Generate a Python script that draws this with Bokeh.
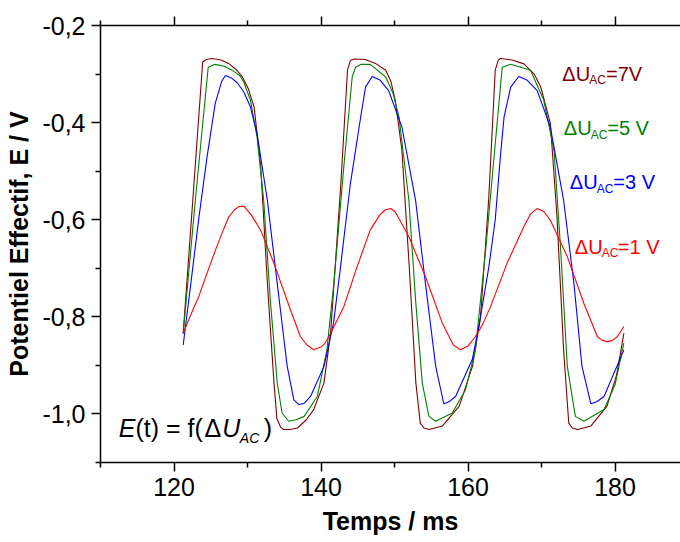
from bokeh.plotting import figure
from bokeh.models import Range1d, LinearAxis, FixedTicker, CustomJSTickFormatter, Label
from bokeh.embed import file_html
from bokeh.resources import INLINE

# ---- data ----
t7 = [121.25, 122.6, 123.9, 124.4, 125.2, 126.4, 127.5, 128.4, 129.3, 130.1, 130.9, 131.8, 132.7, 133.6, 134.0,
      134.5, 134.9, 135.8, 136.8, 138.0, 139.0, 140.4, 141.3, 142.0, 142.7, 143.6, 144.0, 144.5, 146.0, 147.5,
      148.8, 149.5, 150.1, 151.0, 152.0, 152.9, 153.5, 154.0, 154.7, 156.5, 158.8, 160.6, 161.7, 162.8, 163.7,
      164.1, 164.4, 166.0, 167.6, 169.0, 169.9, 171.2, 172.1, 173.0, 173.7, 174.2, 174.9, 176.7, 178.9, 180.2, 181.2]
e7 = [-0.834, -0.55, -0.275, -0.270, -0.268, -0.271, -0.279, -0.290, -0.306, -0.330, -0.368, -0.491, -0.731, -0.936, -1.010,
      -1.027, -1.032, -1.032, -1.029, -1.012, -0.991, -0.936, -0.834, -0.68, -0.525, -0.292, -0.272, -0.269, -0.270, -0.279,
      -0.292, -0.315, -0.354, -0.457, -0.697, -0.936, -1.019, -1.029, -1.032, -1.025, -0.984, -0.902, -0.800, -0.560, -0.292,
      -0.272, -0.268, -0.271, -0.279, -0.300, -0.327, -0.402, -0.594, -0.868, -1.019, -1.029, -1.032, -1.025, -0.984, -0.920, -0.834]

t5 = [121.25, 122.9, 124.65, 125.6, 126.8, 127.9, 129.0, 129.5, 130.4, 131.3, 132.2, 133.1, 134.04, 134.7, 135.6,
      136.6, 137.7, 139.5, 140.8, 141.74, 143.1, 144.24, 144.7, 145.5, 146.7, 148.8, 149.8, 150.6, 151.95, 152.86,
      153.77, 154.67, 155.6, 157.85, 159.66, 161.0, 162.4, 163.7, 164.65, 165.8, 168.5, 170.3, 171.7, 172.6, 173.5,
      174.6, 175.75, 178.5, 180.0, 181.2]
e5 = [-0.834, -0.56, -0.286, -0.280, -0.284, -0.292, -0.304, -0.317, -0.354, -0.43, -0.560, -0.765, -0.936, -0.998, -1.015,
      -1.012, -1.005, -0.964, -0.868, -0.731, -0.491, -0.306, -0.286, -0.280, -0.280, -0.306, -0.340, -0.388, -0.560, -0.765,
      -0.936, -1.005, -1.015, -0.998, -0.950, -0.868, -0.662, -0.443, -0.286, -0.280, -0.292, -0.354, -0.457, -0.662, -0.902,
      -1.005, -1.015, -0.991, -0.94, -0.854]

t3 = [121.25, 122.3, 123.4, 124.5, 125.6, 126.46, 127.0, 127.8, 128.6, 129.5, 130.4, 131.3, 132.7, 134.04, 135.4,
      136.3, 136.98, 137.7, 138.57, 140.4, 141.7, 142.65, 144.0, 145.4, 146.05, 146.96, 148.0, 149.2, 151.0, 152.86,
      154.2, 155.6, 156.7, 157.4, 158.3, 160.57, 161.47, 162.83, 163.7, 164.4, 164.9, 165.8, 166.9, 168.0, 169.4,
      171.2, 173.0, 174.4, 175.5, 176.7, 177.5, 178.5, 181.2]
e3 = [-0.858, -0.73, -0.594, -0.47, -0.361, -0.316, -0.303, -0.308, -0.318, -0.337, -0.368, -0.423, -0.560, -0.731, -0.902,
      -0.971, -0.981, -0.978, -0.964, -0.902, -0.813, -0.697, -0.525, -0.388, -0.327, -0.305, -0.312, -0.334, -0.409, -0.560,
      -0.731, -0.902, -0.979, -0.975, -0.964, -0.888, -0.820, -0.697, -0.60, -0.47, -0.388, -0.327, -0.305, -0.312, -0.334,
      -0.409, -0.560, -0.731, -0.902, -0.979, -0.975, -0.964, -0.868]

t1 = [121.25, 122.3, 123.37, 124.5, 125.65, 126.6, 127.46, 128.2, 128.8, 129.5, 130.5, 131.77, 133.6, 135.85, 137.2,
      138.1, 139.0, 140.0, 140.5, 141.06, 143.1, 144.9, 146.7, 148.0, 148.7, 149.46, 150.1, 150.7, 151.95, 154.2,
      156.5, 158.0, 158.98, 160.0, 161.0, 162.0, 163.06, 165.3, 167.6, 168.5, 169.4, 170.3, 171.2, 173.5, 175.75,
      177.6, 178.2, 178.9, 179.6, 180.3, 181.2]
e1 = [-0.834, -0.795, -0.758, -0.71, -0.662, -0.625, -0.594, -0.580, -0.573, -0.572, -0.590, -0.621, -0.690, -0.786, -0.841,
      -0.858, -0.868, -0.862, -0.855, -0.841, -0.779, -0.697, -0.621, -0.590, -0.580, -0.577, -0.584, -0.600, -0.635, -0.717,
      -0.813, -0.858, -0.868, -0.860, -0.841, -0.815, -0.779, -0.690, -0.614, -0.588, -0.577, -0.583, -0.601, -0.676, -0.772,
      -0.841, -0.848, -0.851, -0.849, -0.841, -0.820]

x_major = [120, 140, 160, 180]
x_minor = [110, 130, 150, 170]
y_major = [-1.0, -0.8, -0.6, -0.4, -0.2]
y_minor = [-1.1, -0.9, -0.7, -0.5, -0.3]

series = [
    (t7, e7, "#800000", "7V"),
    (t5, e5, "#008000", "5 V"),
    (t3, e3, "#0000FF", "3 V"),
    (t1, e1, "#FF0000", "1 V"),
]

FONT = "Liberation Sans"

p = figure(width=680, height=542, output_backend="svg", toolbar_location=None,
           x_range=Range1d(110, 188.9), y_range=Range1d(-1.1, -0.2),
           min_border_left=100, min_border_right=0, min_border_top=25, min_border_bottom=80)
p.outline_line_color = None
p.xgrid.visible = False
p.ygrid.visible = False
p.background_fill_color = "white"
p.border_fill_color = "white"

xt = FixedTicker(ticks=x_major, minor_ticks=x_minor)
yt = FixedTicker(ticks=y_major, minor_ticks=y_minor)


def style(ax):
    ax.axis_line_width = 1.5
    ax.axis_line_color = "black"
    ax.major_tick_line_width = 1.5
    ax.minor_tick_line_width = 1.5
    ax.major_tick_line_color = "black"
    ax.minor_tick_line_color = "black"
    ax.major_tick_out = 9
    ax.major_tick_in = 0
    ax.minor_tick_out = 5
    ax.minor_tick_in = 0
    ax.major_label_text_font = FONT
    ax.major_label_text_font_size = "25px"
    ax.major_label_text_color = "black"
    ax.axis_label_text_font = FONT
    ax.axis_label_text_font_size = "25px"
    ax.axis_label_text_font_style = "bold"
    ax.axis_label_text_color = "black"


xa = p.xaxis[0]
xa.ticker = xt
xa.formatter = CustomJSTickFormatter(code="return tick.toFixed(0);")
style(xa)
xa.major_label_standoff = 6
xa.axis_label = "Temps / ms"
xa.axis_label_standoff = 8

ya = p.yaxis[0]
ya.ticker = yt
ya.formatter = CustomJSTickFormatter(code="return tick.toFixed(1).replace('.', ',');")
style(ya)
ya.major_label_standoff = 6
ya.axis_label = "Potentiel Effectif, E / V"
ya.axis_label_standoff = 6

top = LinearAxis(ticker=xt, formatter=CustomJSTickFormatter(code="return '';"))
style(top)
top.major_label_text_font_size = "1px"
top.major_label_standoff = 0
p.add_layout(top, "above")

for t, e, c, _ in series:
    p.line(t, e, line_color=c, line_width=1.1)


def rich(x, y, pieces, color):
    for txt, dx, dy, size, fstyle in pieces:
        p.add_layout(Label(x=x, y=y, x_offset=dx, y_offset=dy, text=txt,
                           text_font=FONT, text_font_size=f"{size}px", text_font_style=fstyle,
                           text_color=color, text_baseline="alphabetic", text_align="left"))


# series annotations
ann_pos = [(172.82, -0.2989), (173.03, -0.4121), (173.85, -0.5219), (174.53, -0.6557)]
ann_eq = [43.7, 43.4, 43.4, 43.0]
for (t, e, c, lab), (ax_, ay_), eqx in zip(series, ann_pos, ann_eq):
    rich(ax_, ay_, [("ΔU", 0, 0, 20, "normal"),
                    ("AC", 27, -6.7, 12, "normal"),
                    ("=" + lab, eqx, 0, 20, "normal")], c)

# formula annotation
rich(112.49, -1.029, [("E", 0, 0, 25, "italic"),
                      ("(t) = f(", 16.7, 0, 25, "normal"),
                      ("Δ", 85.7, 0, 25, "normal"),
                      ("U", 103.4, 0, 25, "italic"),
                      ("AC", 121, -9.6, 14, "italic"),
                      (")", 145, 0, 25, "normal")], "black")

open("out.html", "w").write(file_html(p, INLINE))
